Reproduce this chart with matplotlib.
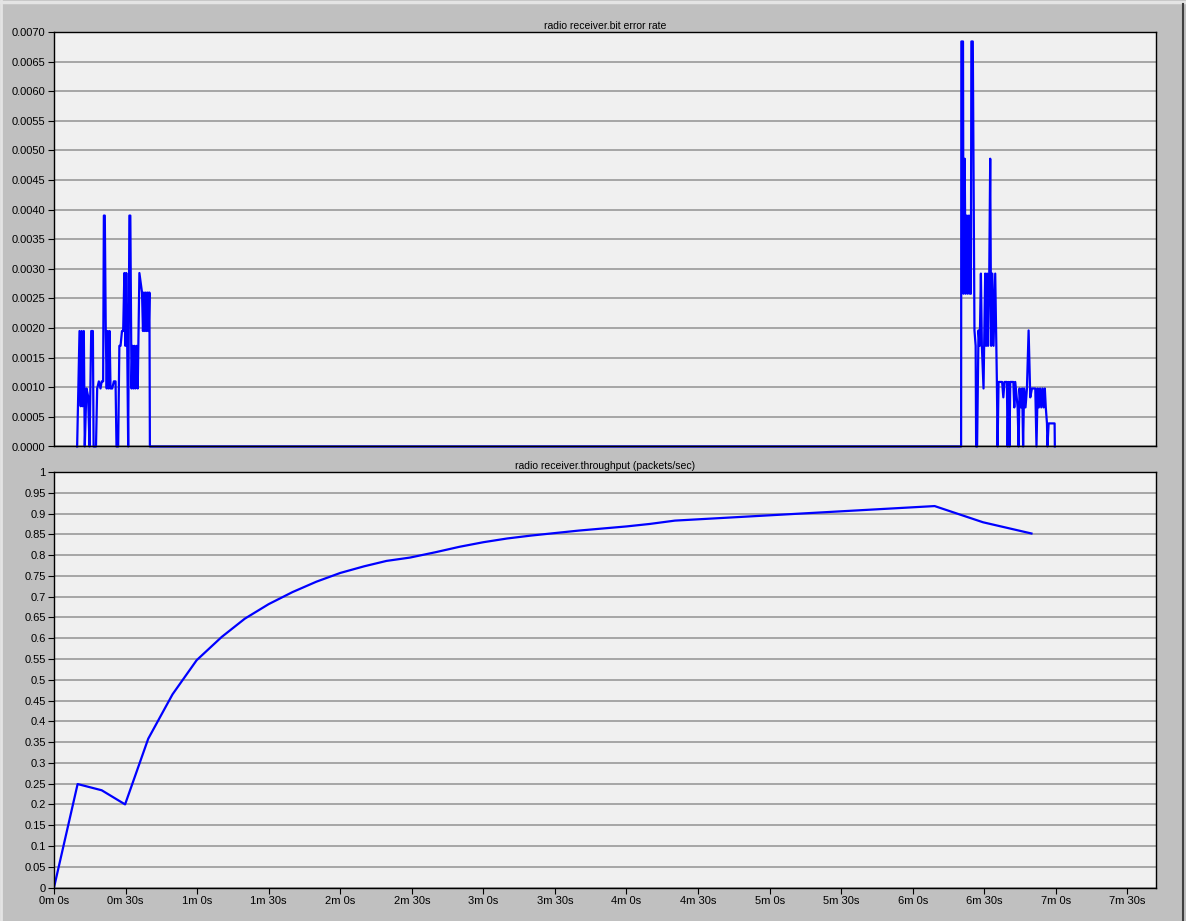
import numpy as np
import matplotlib.pyplot as plt
from matplotlib.lines import Line2D

plt.rcParams['font.family'] = ['Liberation Sans', 'DejaVu Sans']

# bit error rate samples (time in seconds, value)
ber_t = [9.7, 10.7, 11.2, 11.6, 12.0, 12.5, 12.9, 13.6, 14.3, 14.9,
         15.6, 16.3, 16.6, 17.6, 18.1, 18.8, 19.5, 20.0, 20.6, 20.9,
         21.3, 21.7, 22.1, 22.5, 22.9, 23.3, 23.7, 24.4, 25.1, 25.8,
         26.2, 26.9, 27.4, 27.9, 28.5, 29.0, 29.5, 29.9, 30.3, 30.7,
         31.1, 31.6, 32.0, 32.5, 32.9, 33.3, 33.7, 34.1, 34.6, 35.1,
         35.8, 36.9, 37.3, 37.7, 38.1, 38.5, 38.9, 39.3, 39.7, 40.0,
         40.2, 380.3,
         380.4, 381.1, 381.3, 381.8, 382.2, 382.7, 383.1, 383.6, 384.0, 384.4,
         384.6, 385.2, 385.9, 386.4, 386.6, 387.0, 387.6, 388.1, 388.6, 389.0,
         389.7, 390.4, 390.8, 391.2, 391.6, 392.1, 392.5, 392.9, 393.4, 393.9,
         394.6, 395.3, 395.6, 396.0, 397.5, 398.0, 398.5, 399.5, 399.8, 400.2,
         400.6, 400.9, 402.2, 402.6, 403.0, 404.0, 404.4, 404.8, 405.4, 405.9,
         406.3, 406.7, 407.3, 407.9, 408.6, 409.3, 410.0, 411.4, 411.9, 412.4,
         412.9, 413.4, 413.9, 414.4, 414.9, 415.4, 415.8, 416.3, 416.5, 417.0,
         419.5, 419.6]
ber_v = [0, 0.00195, 0.00068, 0.00195, 0.00068, 0.00195, 0, 0.00098, 0.00085, 0,
         0.00195, 0.00195, 0, 0, 0.00098, 0.0011, 0.00098, 0.0011, 0.0011, 0.0039,
         0.0039, 0.00195, 0.00098, 0.00195, 0.00098, 0.00195, 0.00098, 0.00098, 0.0011, 0.0011,
         0, 0, 0.0017, 0.0017, 0.00195, 0.00195, 0.00293, 0.0017, 0.00293, 0.0017,
         0, 0.0039, 0.0039, 0.00098, 0.0017, 0.00098, 0.0017, 0.00098, 0.0017, 0.00098,
         0.00293, 0.0026, 0.00195, 0.0026, 0.00195, 0.0026, 0.00195, 0.0026, 0.00195, 0.0026,
         0, 0,
         0.00684, 0.00684, 0.00258, 0.00486, 0.00258, 0.0039, 0.00258, 0.0039, 0.00258, 0.00258,
         0.00684, 0.00684, 0.00196, 0.0017, 0, 0, 0.00196, 0.0017, 0.00292, 0.0017,
         0.00098, 0.00292, 0.0017, 0.00292, 0.0017, 0.00292, 0.00486, 0.0017, 0.00292, 0.0017,
         0.00292, 0.00109, 0, 0.00109, 0.00109, 0.00083, 0.00109, 0.00109, 0, 0.00109,
         0, 0.00109, 0.00109, 0.00066, 0.00109, 0.00066, 0, 0.00098, 0.00066, 0.00098,
         0, 0.00098, 0.00066, 0.00098, 0.00196, 0.00083, 0.00098, 0.00098, 0, 0.00098,
         0.00066, 0.00098, 0.00066, 0.00098, 0.00066, 0.00098, 0.00066, 0.00039, 0, 0.00039,
         0.00039, 0]

# throughput samples (time in seconds, packets/sec)
thr_t = [0, 9.9, 20, 29.8, 39.5, 49.7, 59.8, 70.3, 80, 90, 100, 110, 120, 130,
         139.4, 149.2, 160, 170, 180, 190, 200, 210, 220, 230, 240, 249.8,
         260.3, 369.2, 389.5, 409.8]
thr_v = [0, 0.249, 0.234, 0.200, 0.358, 0.465, 0.547, 0.603, 0.647, 0.682, 0.711,
         0.736, 0.757, 0.773, 0.786, 0.794, 0.807, 0.820, 0.831, 0.840, 0.847,
         0.853, 0.859, 0.864, 0.869, 0.875, 0.883, 0.918, 0.879, 0.852]

xticks = np.arange(0, 451, 30)
xlabels = [f"{int(s) // 60}m {int(s) % 60}s" for s in xticks]
XMAX = 461.8

fig = plt.figure(figsize=(11.86, 9.21), dpi=100)
fig.patch.set_facecolor('#c0c0c0')

ax1 = fig.add_axes([54 / 1186, 1 - 446.5 / 921, 1101.5 / 1186, 414.5 / 921])
ax2 = fig.add_axes([54 / 1186, 1 - 887.5 / 921, 1101.5 / 1186, 415.5 / 921])

for ax in (ax1, ax2):
    ax.set_facecolor('#f0f0f0')
    ax.set_xlim(0, XMAX)
    ax.grid(axis='y', color='#999999', linewidth=1.2)
    ax.set_axisbelow(True)
    for sp in ax.spines.values():
        sp.set_color('black')
        sp.set_linewidth(1.0)
    ax.tick_params(axis='both', direction='out', length=4, width=0.8,
                   labelsize=8, colors='black', pad=2)

ax1.plot(ber_t, ber_v, color='#0000ff', linewidth=1.6, clip_on=False)
ax1.set_ylim(0, 0.007)
ax1.set_yticks(np.arange(0, 0.00701, 0.0005))
ax1.set_yticklabels([f"{v:.4f}" for v in np.arange(0, 0.00701, 0.0005)])
ax1.set_xticks([])
ax1.set_title('radio receiver.bit error rate', fontsize=7.5, pad=2)

ax2.plot(thr_t, thr_v, color='#0000ff', linewidth=1.6)
ax2.set_ylim(0, 1)
yt = np.round(np.arange(0, 1.001, 0.05), 2)
ax2.set_yticks(yt)
ax2.set_yticklabels([f"{v:g}" for v in yt])
ax2.set_xticks(xticks)
ax2.set_xticklabels(xlabels)
ax2.set_title('radio receiver.throughput (packets/sec)', fontsize=7.5, pad=2)

# window bevel
fig.add_artist(Line2D([0, 1], [1 - 2 / 921, 1 - 2 / 921], color='#e4e4e4', linewidth=2.5))
fig.add_artist(Line2D([1 / 1186, 1 / 1186], [0, 1], color='#e4e4e4', linewidth=2))
fig.add_artist(Line2D([1182.5 / 1186, 1182.5 / 1186], [0, 1 - 4 / 921], color='#404040', linewidth=1.5))

fig.savefig('out.png', dpi=100, facecolor=fig.get_facecolor())
